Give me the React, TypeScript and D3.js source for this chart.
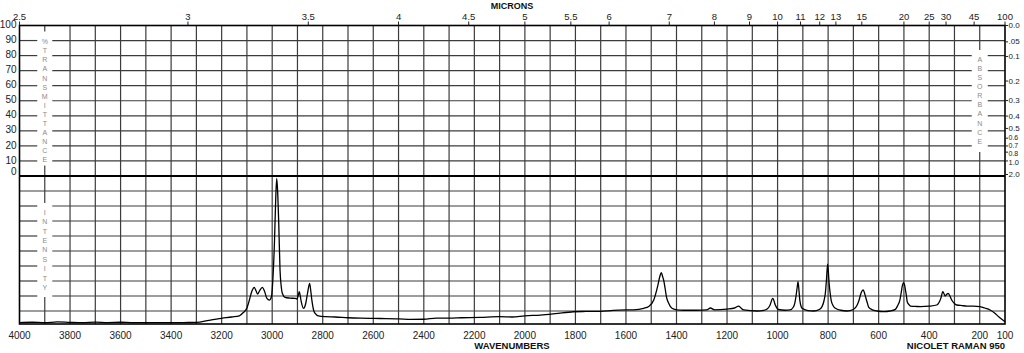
import React from "react";
import * as d3 from "d3";

// ---- Data ----
const wavenumbers = [
  4000, 3950, 3900, 3850, 3800, 3750, 3700, 3650, 3600, 3550, 3500, 3450, 3400, 3350, 3300,
  3250, 3200, 3160, 3130, 3114, 3100, 3094, 3081, 3071, 3064, 3058, 3050, 3039, 3030, 3021,
  3011, 3003, 2997, 2991, 2986, 2982, 2978, 2974, 2969, 2964, 2960, 2949, 2930, 2909, 2902,
  2896, 2893, 2889, 2885, 2876, 2868, 2860, 2852, 2847, 2843, 2834, 2825, 2817, 2790, 2750,
  2700, 2650, 2573, 2500, 2450, 2400, 2350, 2300, 2250, 2177, 2100, 2050, 2000, 1939, 1880,
  1808, 1760, 1701, 1650, 1600, 1571, 1530, 1510, 1490, 1475, 1466, 1460, 1455, 1451, 1445,
  1440, 1431, 1418, 1400, 1373, 1320, 1280, 1266, 1250, 1200, 1170, 1154, 1145, 1134, 1081,
  1055, 1040, 1031, 1019, 1009, 997, 970, 951, 938, 932, 927, 923, 919, 915, 912,
  903, 880, 857, 835, 824, 816, 811, 806, 802, 799, 796, 792, 788, 780, 771,
  750, 725, 700, 685, 678, 672, 667, 661, 656, 652, 645, 639, 625, 606, 580,
  555, 534, 525, 516, 510, 507, 501, 497, 494, 490, 487, 480, 474, 450, 434,
  400, 370, 360, 354, 346, 340, 337, 331, 325, 318, 311, 300, 291, 270, 251,
  225, 199, 180, 159, 140, 125, 110, 100,
];
const intensities = [
  0.22, 0.25, 0.22, 0.27, 0.24, 0.22, 0.26, 0.23, 0.25, 0.22, 0.22, 0.23, 0.22, 0.23, 0.24,
  0.38, 0.51, 0.6, 0.68, 0.9, 1.2, 1.51, 2.29, 2.58, 2.35, 2.13, 2.35, 2.58, 2.3, 1.84,
  1.73, 1.95, 3.2, 5.6, 8.5, 9.84, 8.8, 6.8, 3.73, 2.6, 2.18, 1.91, 1.86, 1.84, 1.8,
  2.1, 2.29, 2.0, 1.62, 1.18, 1.45, 2.2, 2.84, 2.3, 1.73, 0.95, 0.75, 0.67, 0.62, 0.6,
  0.55, 0.52, 0.5, 0.48, 0.44, 0.45, 0.53, 0.52, 0.55, 0.58, 0.62, 0.6, 0.68, 0.73, 0.82,
  0.95, 0.97, 0.98, 1.04, 1.07, 1.08, 1.18, 1.3, 1.73, 2.62, 3.3, 3.56, 3.3, 3.07, 2.5,
  1.96, 1.51, 1.18, 1.08, 1.05, 1.05, 1.08, 1.2, 1.08, 1.13, 1.2, 1.33, 1.2, 1.07, 1.0,
  1.04, 1.15, 1.35, 1.84, 1.4, 1.1, 1.05, 1.07, 1.25, 1.51, 2.0, 2.5, 2.96, 2.3, 1.73,
  1.18, 1.03, 1.0, 1.1, 1.29, 1.7, 2.18, 3.2, 4.13, 3.6, 2.84, 2.2, 1.73, 1.35, 1.18,
  1.05, 1.0, 1.1, 1.4, 1.7, 2.07, 2.3, 2.4, 2.2, 1.96, 1.55, 1.24, 1.08, 1.0, 0.96,
  1.0, 1.11, 1.35, 1.73, 2.3, 2.62, 2.89, 2.7, 2.4, 2.0, 1.62, 1.42, 1.33, 1.3, 1.29,
  1.32, 1.4, 1.6, 1.84, 2.29, 2.1, 2.0, 2.1, 2.18, 2.0, 1.73, 1.5, 1.4, 1.36, 1.33,
  1.33, 1.29, 1.2, 1.07, 0.85, 0.62, 0.42, 0.29,
];

const wavenumberTicks = [4000, 3800, 3600, 3400, 3200, 3000, 2800, 2600, 2400, 2200, 2000, 1800, 1600, 1400, 1200, 1000, 800, 600, 400, 200, 100];
const gridWavenumbers = d3.range(3900, 100, -100);
const micronTicks = ["2.5", "3", "3.5", "4", "4.5", "5", "5.5", "6", "7", "8", "9", "10", "11", "12", "13", "15", "20", "25", "30", "45", "100"];
const transmittanceTicks = [100, 90, 80, 70, 60, 50, 40, 30, 20, 10, 0];
const absorbanceTicks = ["0.0", ".05", "0.1", "0.2", "0.3", "0.4", "0.5", "0.6", "0.7", "0.8", "1.0", "2.0"];
const intensityGrid = [1, 2, 3, 4, 5, 6, 7, 8, 9];

// ---- Layout ----
const W = 1024, H = 353;
const left = 19.5, right = 1005;
const top = 25.5, mid = 176, bottom = 324;
const font = "'Liberation Sans', Arial, sans-serif";

const x = d3.scaleLinear().domain([4000, 100]).range([left, right]);
const yT = d3.scaleLinear().domain([0, 100]).range([mid, top]);
const yI = d3.scaleLinear().domain([0, 10]).range([326, mid]);
const yA = (a: number) => yT(100 * Math.pow(10, -a));

const leftColX = x(3900);
const rightColX = x(200);

export default function App() {
  const pts = wavenumbers.map((w, i) => [w, intensities[i]] as [number, number]);
  const line = d3
    .line<[number, number]>()
    .x((d) => x(d[0]))
    .y((d) => yI(d[1]))
    .curve(d3.curveMonotoneX);

  const gridColor = "#3c3c3c";
  const hLines: JSX.Element[] = [];
  [90, 80, 70, 60, 50, 40, 30, 20, 10].forEach((t) => {
    const y = yT(t);
    const segs: [number, number][] = [];
    let a = left;
    segs.push([a, leftColX - 7.5]);
    a = leftColX + 7.5;
    if (t <= 80 && t >= 20) {
      segs.push([a, rightColX - 8]);
      a = rightColX + 8;
    }
    segs.push([a, right]);
    segs.forEach((s, k) =>
      hLines.push(<line key={`t${t}-${k}`} x1={s[0]} x2={s[1]} y1={y} y2={y} stroke={gridColor} strokeWidth={1.2} />)
    );
  });
  intensityGrid.forEach((v) => {
    const y = yI(v);
    if (v >= 2 && v <= 8) {
      hLines.push(<line key={`i${v}a`} x1={left} x2={leftColX - 7.5} y1={y} y2={y} stroke={gridColor} strokeWidth={1.2} />);
      hLines.push(<line key={`i${v}b`} x1={leftColX + 7.5} x2={right} y1={y} y2={y} stroke={gridColor} strokeWidth={1.2} />);
    } else {
      hLines.push(<line key={`i${v}`} x1={left} x2={right} y1={y} y2={y} stroke={gridColor} strokeWidth={1.2} />);
    }
  });

  const vLines: JSX.Element[] = [];
  gridWavenumbers.forEach((w) => {
    const xx = x(w);
    if (w === 3900) {
      vLines.push(<line key="v3900a" x1={xx} x2={xx} y1={top} y2={31.5} stroke={gridColor} strokeWidth={1.2} />);
      vLines.push(<line key="v3900b" x1={xx} x2={xx} y1={165.5} y2={203} stroke={gridColor} strokeWidth={1.2} />);
      vLines.push(<line key="v3900c" x1={xx} x2={xx} y1={297} y2={bottom} stroke={gridColor} strokeWidth={1.2} />);
    } else if (w === 200) {
      vLines.push(<line key="v200a" x1={xx} x2={xx} y1={top} y2={50} stroke={gridColor} strokeWidth={1.2} />);
      vLines.push(<line key="v200b" x1={xx} x2={xx} y1={152} y2={bottom} stroke={gridColor} strokeWidth={1.2} />);
    } else {
      vLines.push(<line key={`v${w}`} x1={xx} x2={xx} y1={top} y2={bottom} stroke={gridColor} strokeWidth={1.2} />);
    }
  });

  const vertText = (label: string, cx: number, y0: number, step: number, key: string) =>
    label.split("").map((ch, i) => (
      <text key={`${key}${i}`} x={cx} y={y0 + i * step} fontSize={7} fill="#8a8a8a" textAnchor="middle" dominantBaseline="middle" fontFamily={font}>
        {ch}
      </text>
    ));

  // small label nudges and sizes where the log-spaced absorbance labels crowd together
  const absNudge: Record<string, number> = { "0.6": -1, "0.7": -0.5, "0.8": 1.6, "1.0": 1.2 };
  const absSize: Record<string, number> = { "0.6": 7, "0.7": 7, "0.8": 7, "1.0": 7.5 };

  return (
    <svg width={W} height={H} style={{ position: "absolute", left: 0, top: 0, background: "#fff" }}>
      <rect x={0} y={0} width={W} height={H} fill="#fff" />
      {vLines}
      {hLines}
      <rect x={left} y={top} width={right - left} height={bottom - top} fill="none" stroke="#000" strokeWidth={1.6} />
      <line x1={left} x2={right} y1={mid} y2={mid} stroke="#000" strokeWidth={1.8} />

      {vertText("%TRANSMITTANCE", leftColX, 42.5, 9.05, "tr")}
      {vertText("INTENSITY", leftColX, 213, 9.4, "in")}
      {vertText("ABSORBANCE", rightColX, 60, 9.1, "ab")}

      <path d={line(pts) || ""} fill="none" stroke="#000" strokeWidth={1.3} strokeLinejoin="round" />

      {transmittanceTicks.map((t) => (
        <text key={`lt${t}`} x={16.5} y={t === 0 ? 172.5 : yT(t)} fontSize={10} fill="#222" textAnchor="end" dominantBaseline="middle" fontFamily={font}>
          {t}
        </text>
      ))}

      {absorbanceTicks.map((a) => {
        const y = yA(parseFloat(a));
        const ty = y + 0.5 + (absNudge[a] || 0);
        return (
          <g key={`ab${a}`}>
            <line x1={right} x2={right + 3} y1={y} y2={y} stroke="#222" strokeWidth={1} />
            <text x={right + 3.5} y={ty} fontSize={absSize[a] || 8} fill="#222" dominantBaseline="middle" fontFamily={font}>
              {a}
            </text>
          </g>
        );
      })}

      {micronTicks.map((m) => {
        const xx = x(10000 / parseFloat(m));
        return (
          <g key={`mu${m}`}>
            <line x1={xx} x2={xx} y1={21.5} y2={top} stroke="#222" strokeWidth={1} />
            <text x={xx} y={20} fontSize={9.5} fill="#222" textAnchor="middle" fontFamily={font}>
              {m}
            </text>
          </g>
        );
      })}
      <text x={512} y={8.7} fontSize={9} fontWeight="bold" fill="#111" textAnchor="middle" fontFamily={font}>
        MICRONS
      </text>

      {wavenumberTicks.map((w) => (
        <text key={`wn${w}`} x={x(w)} y={338.5} fontSize={10} fill="#222" textAnchor="middle" fontFamily={font}>
          {w}
        </text>
      ))}
      <text x={512} y={348.7} fontSize={9.5} fontWeight="bold" fill="#111" textAnchor="middle" fontFamily={font}>
        WAVENUMBERS
      </text>
      <text x={1005} y={348.7} fontSize={9.5} fontWeight="bold" fill="#111" textAnchor="end" fontFamily={font}>
        NICOLET RAMAN 950
      </text>
    </svg>
  );
}
